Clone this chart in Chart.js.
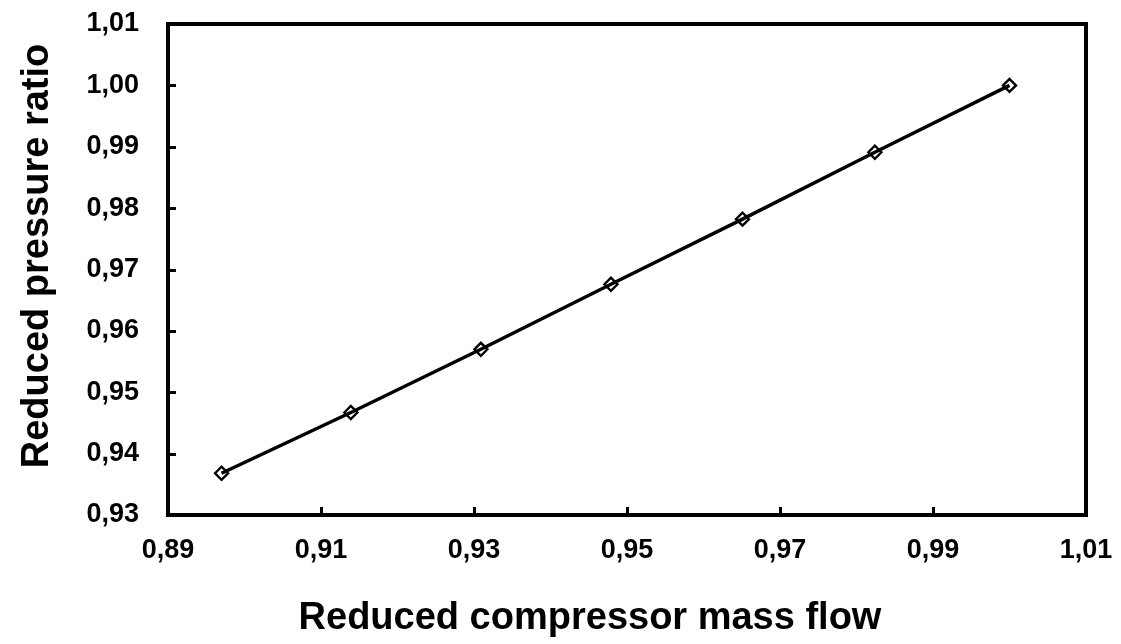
<!DOCTYPE html>
<html>
<head>
<meta charset="utf-8">
<script src="https://cdn.jsdelivr.net/npm/chart.js@4.4.1/dist/chart.umd.min.js"></script>
<style>
  html, body { margin: 0; padding: 0; background: #fff; }
  #wrap { width: 1121px; height: 644px; }
</style>
</head>
<body>
<div id="wrap"><canvas id="grafica"></canvas></div>
<script>
// valores
const flujoMasico = [0.8970, 0.9139, 0.9309, 0.9479, 0.9651, 0.9824, 1.0000];
const relacionPresion = [0.9368, 0.9467, 0.9570, 0.9676, 0.9782, 0.9891, 1.0000];
const ejeX = { min: 0.89, max: 1.01, paso: 0.02 };
const ejeY = { min: 0.93, max: 1.01, paso: 0.01 };
const tituloX = 'Reduced compressor mass flow';
const tituloY = 'Reduced pressure ratio';

const fuente = '"Liberation Sans", Arial, sans-serif';
const coma = v => Number(v).toFixed(2).replace('.', ',');

const puntos = flujoMasico.map((x, i) => ({ x: x, y: relacionPresion[i] }));

// marco, marcas hacia dentro y titulos de ejes
const marco = {
  id: 'marco',
  afterDraw(chart) {
    const ctx = chart.ctx;
    const a = chart.chartArea;
    const sx = chart.scales.x;
    const sy = chart.scales.y;
    ctx.save();
    ctx.strokeStyle = '#000';
    ctx.lineWidth = 4;
    ctx.strokeRect(a.left, a.top, a.right - a.left, a.bottom - a.top);
    ctx.lineWidth = 3;
    ctx.beginPath();
    sy.ticks.forEach(t => {
      const py = Math.round(sy.getPixelForValue(t.value)) + 0.5;
      ctx.moveTo(a.left, py);
      ctx.lineTo(a.left + 8, py);
    });
    sx.ticks.forEach(t => {
      const px = Math.round(sx.getPixelForValue(t.value)) + 0.5;
      ctx.moveTo(px, a.bottom);
      ctx.lineTo(px, a.bottom - 8);
    });
    ctx.stroke();

    ctx.fillStyle = '#000';
    ctx.font = 'bold 38px ' + fuente;
    ctx.textAlign = 'center';
    ctx.textBaseline = 'middle';
    ctx.fillText(tituloX, 590, 619);
    ctx.translate(38, 256);
    ctx.rotate(-Math.PI / 2);
    ctx.fillText(tituloY, 0, 0);
    ctx.restore();
  }
};

new Chart(document.getElementById('grafica'), {
  type: 'scatter',
  data: {
    datasets: [{
      label: tituloY,
      data: puntos,
      showLine: true,
      borderColor: '#000',
      borderWidth: 3.5,
      tension: 0,
      pointStyle: 'rectRot',
      pointRadius: 6.5,
      pointBorderWidth: 2.4,
      pointBorderColor: '#000',
      pointBackgroundColor: 'rgba(255,255,255,0)'
    }]
  },
  options: {
    responsive: true,
    maintainAspectRatio: false,
    animation: false,
    layout: { padding: { top: 24, right: 35, left: 0, bottom: 0 } },
    plugins: { legend: { display: false }, tooltip: { enabled: false } },
    scales: {
      x: {
        type: 'linear',
        min: ejeX.min,
        max: ejeX.max,
        grid: { display: false, drawTicks: false },
        border: { display: false },
        ticks: {
          stepSize: ejeX.paso,
          padding: 19,
          color: '#000',
          font: { family: fuente, size: 27, weight: 'bold' },
          callback: v => coma(v),
          maxRotation: 0,
          autoSkip: false
        },
        afterFit(s) { s.height = 129; s.paddingLeft = 0; s.paddingRight = 0; }
      },
      y: {
        type: 'linear',
        min: ejeY.min,
        max: ejeY.max,
        grid: { display: false, drawTicks: false },
        border: { display: false },
        ticks: {
          stepSize: ejeY.paso,
          padding: 29,
          color: '#000',
          font: { family: fuente, size: 27, weight: 'bold' },
          callback: v => coma(v),
          autoSkip: false
        },
        afterFit(s) { s.width = 168; s.paddingTop = 0; s.paddingBottom = 0; }
      }
    }
  },
  plugins: [marco]
});
</script>
</body>
</html>
